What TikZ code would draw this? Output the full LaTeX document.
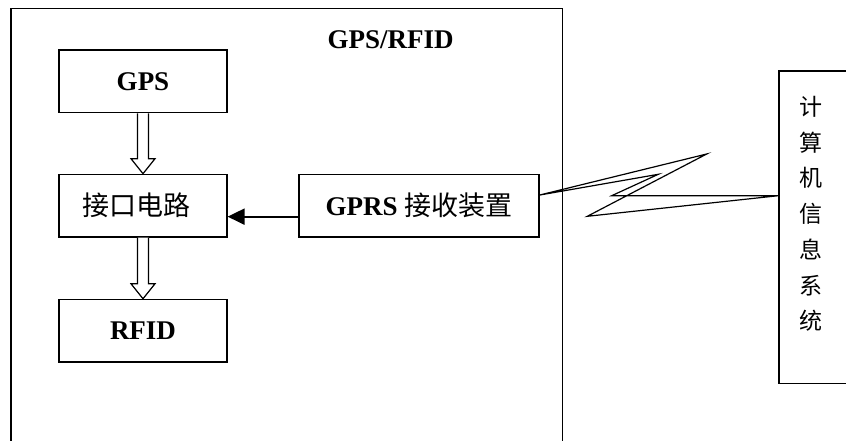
\documentclass[tikz,border=0pt]{standalone}
\usepackage{fontspec}
\setmainfont{Liberation Serif}
\newfontfamily\cjk{Noto Sans CJK SC}
\usetikzlibrary{arrows.meta,calc}

% hollow block arrow from the bottom of one node to the top of another
\newcommand\hollowarrow[2]{%
  \draw[hollow] ($(#1.south)+(-5.5,0)$) -- ($(#2.north)+(-5.5,-15)$)
    -- ++(-6.5,0) -- (#2.north) -- ($(#2.north)+(12,-15)$)
    -- ++(-6.5,0) -- ($(#1.south)+(5.5,0)$);
}

\begin{document}
\begin{tikzpicture}[x=1pt,y=-1pt,
  box/.style={draw,line width=1.2pt,minimum width=168pt,minimum height=62.7pt,inner sep=0pt},
  lat/.style={font=\fontsize{27}{30}\selectfont\bfseries},
  zh/.style={font=\cjk\fontsize{27}{30}\selectfont},
  hollow/.style={draw,line width=1.2pt,fill=white,line join=miter},
]
\useasboundingbox (0,0) rectangle (846,441);
\clip (0,0) rectangle (846,441);

% enclosing frame of the on-board unit
\draw[line width=1.2pt] (11,8.7) rectangle (562.7,470);
\node[lat] (title) at (390.7,40) {GPS/RFID};

% internal blocks
\node[box,lat] (gps) at (143,81.35) {GPS};
\node[box,zh] (mid) at (143,205.65) {接口电路\hspace*{14pt}};
\node[box,lat] (rfid) at (143,330.7) {RFID};
\node[box,minimum width=240pt] (gprs) at (419,205.65)
  {\fontsize{27}{30}\selectfont\bfseries GPRS {\cjk\mdseries 接收装置}};

% data flow
\hollowarrow{gps}{mid}
\hollowarrow{mid}{rfid}
\draw[line width=2pt,-{Triangle[length=17pt,width=16pt]}]
  ([yshift=-11pt]gprs.west) -- ([yshift=-11pt]mid.east);

% remote information system
\node[draw,line width=1.2pt,minimum width=92pt,minimum height=312.3pt,inner sep=0pt]
  (sys) at (825,227.15) {};
\node[font=\cjk\fontsize{23}{35.7}\selectfont,align=center] (systxt) at (811,213.9)
  {计\\算\\机\\信\\息\\系\\统};
\coordinate (sysW) at ([yshift=31.45pt]sys.west);

% wireless link
\draw[line width=1.2pt,line join=miter]
  ([yshift=10.6pt]gprs.east) -- (706.7,154) -- (587.3,216.3) -- (sysW)
  -- (611.7,195.7) -- (658.3,174.3) -- cycle;
\end{tikzpicture}
\end{document}
